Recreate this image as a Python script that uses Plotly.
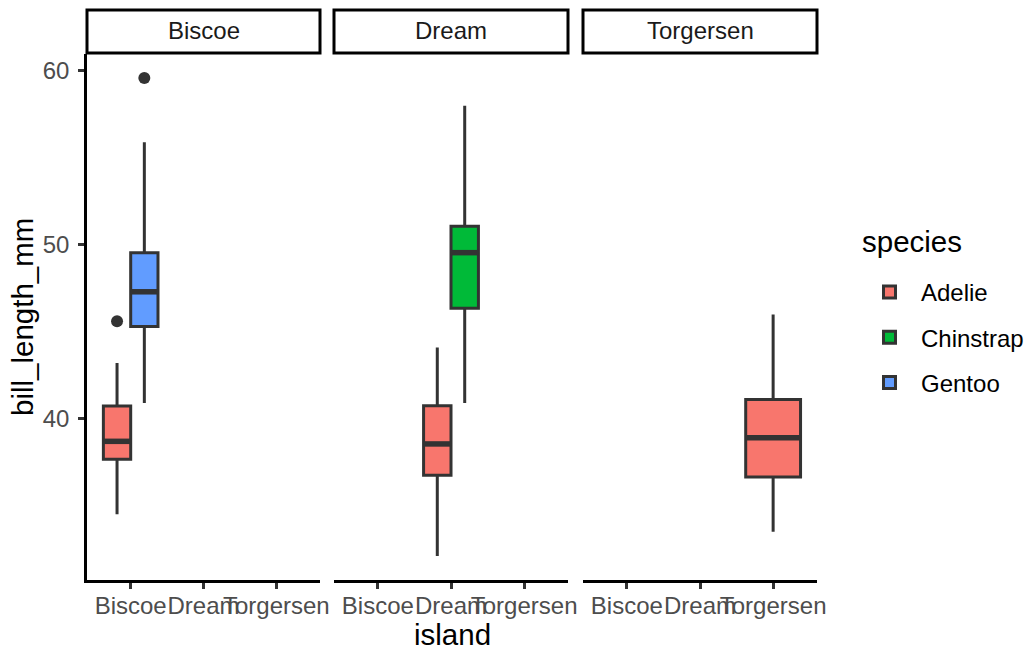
import plotly.graph_objects as go
from plotly.subplots import make_subplots

# ---- data ----
facets = ["Biscoe", "Dream", "Torgersen"]
x_categories = ["Biscoe", "Dream", "Torgersen"]
species = ["Adelie", "Chinstrap", "Gentoo"]
species_colors = ["#F8766D", "#00BA38", "#619CFF"]

box_island = ["Biscoe", "Biscoe", "Dream", "Dream", "Torgersen"]
box_species = ["Adelie", "Gentoo", "Adelie", "Chinstrap", "Adelie"]
box_q1 = [37.675, 45.3, 36.75, 46.35, 36.65]
box_median = [38.7, 47.3, 38.55, 49.55, 38.9]
box_q3 = [40.725, 49.55, 40.75, 51.075, 41.1]
box_lower = [34.5, 40.9, 32.1, 40.9, 33.5]
box_upper = [43.2, 55.9, 44.1, 58.0, 46.0]

outlier_island = ["Biscoe", "Biscoe"]
outlier_species = ["Adelie", "Gentoo"]
outlier_value = [45.6, 59.6]

y_ticks = [40, 50, 60]

# ---- styling ----
FONT = "Liberation Sans, Arial, Helvetica, sans-serif"
LINE = "#333333"
TICK_SIZE = 24
TITLE_SIZE = 29.5
DODGE = 0.75

fig = make_subplots(rows=1, cols=3, shared_yaxes=True, horizontal_spacing=0.0)

# dodge positions: within each facet, each island group shares 0.75 width
def dodge_positions(facet):
    out = {}
    for xi, xcat in enumerate(x_categories):
        present = [s for s in species
                   if any(bi == facet and bi == xcat and bs == s
                          for bi, bs in zip(box_island, box_species))]
        n = len(present)
        if n == 0:
            continue
        w = DODGE / n
        for k, s in enumerate(present):
            out[(xcat, s)] = (xi + 1 - DODGE / 2 + w * (k + 0.5), w)
    return out

shown = set()
for col, facet in enumerate(facets, start=1):
    pos = dodge_positions(facet)
    for i in range(len(box_island)):
        if box_island[i] != facet:
            continue
        sp = box_species[i]
        c, w = pos[(box_island[i], sp)]
        color = species_colors[species.index(sp)]
        fig.add_trace(go.Box(
            x=[c], q1=[box_q1[i]], median=[box_median[i]], q3=[box_q3[i]],
            lowerfence=[box_lower[i]], upperfence=[box_upper[i]],
            width=w, whiskerwidth=0, fillcolor=color,
            line=dict(color=LINE, width=3),
            name=sp, legendgroup=sp, showlegend=sp not in shown,
            boxpoints=False, hoverinfo="skip",
            legendrank=species.index(sp),
        ), row=1, col=col)
        shown.add(sp)
        # thicker median line (ggplot fatten)
        fig.add_trace(go.Scatter(
            x=[c - w / 2, c + w / 2], y=[box_median[i], box_median[i]],
            mode="lines", line=dict(color=LINE, width=5.5),
            showlegend=False, hoverinfo="skip",
        ), row=1, col=col)
    for j in range(len(outlier_island)):
        if outlier_island[j] != facet:
            continue
        c, w = pos[(outlier_island[j], outlier_species[j])]
        fig.add_trace(go.Scatter(
            x=[c], y=[outlier_value[j]], mode="markers",
            marker=dict(color=LINE, size=12, line=dict(width=0)),
            showlegend=False, hoverinfo="skip",
        ), row=1, col=col)

# panel geometry (pixels)
W, H = 1028, 648
L, R, T, B = 87, 817, 54, 580
pw = R - L
ph = B - T
panels = [(87, 320), (334, 568), (583, 817)]
domains = [[(a - L) / pw, (b - L) / pw] for a, b in panels]

for k in range(3):
    ax = "xaxis" if k == 0 else f"xaxis{k+1}"
    fig.layout[ax].update(
        domain=domains[k], range=[0.4, 3.6],
        tickmode="array", tickvals=[1, 2, 3], ticktext=x_categories,
        tickangle=0, showline=True, linecolor="black", linewidth=2.5,
        ticks="outside", ticklen=6, tickwidth=2.5, tickcolor=LINE,
        ticklabelstandoff=-4,
        tickfont=dict(family=FONT, size=TICK_SIZE, color="#4D4D4D"),
        showgrid=False, zeroline=False, fixedrange=True,
    )
    ay = "yaxis" if k == 0 else f"yaxis{k+1}"
    fig.layout[ay].update(range=[30.725, 60.975], showgrid=False, zeroline=False)

fig.layout.yaxis.update(
    tickmode="array", tickvals=y_ticks, ticks="outside", ticklen=6,
    tickwidth=2.5, tickcolor=LINE, showline=True, linecolor="black",
    linewidth=2.5, ticklabelstandoff=4,
    tickfont=dict(family=FONT, size=TICK_SIZE, color="#4D4D4D"),
)
for ay in ["yaxis2", "yaxis3"]:
    fig.layout[ay].update(showticklabels=False, ticks="", showline=False)

# facet strips
for k, facet in enumerate(facets):
    xr = "x domain" if k == 0 else f"x{k+1} domain"
    yr = "y domain" if k == 0 else f"y{k+1} domain"
    fig.add_shape(type="rect", xref=xr, yref=yr, x0=0, x1=1,
                  y0=1 + (T - 53) / ph, y1=1 + (T - 10) / ph,
                  line=dict(color="black", width=3), fillcolor="white",
                  layer="above")
    fig.add_annotation(xref=xr, yref=yr, x=0.5, y=1 + (T - 31) / ph,
                       text=facet, showarrow=False, yanchor="middle",
                       font=dict(family=FONT, size=TICK_SIZE, color="#1A1A1A"))

# axis titles
fig.add_annotation(xref="paper", yref="paper", x=(452 - L) / pw,
                   y=(B - 634) / ph, text="island", showarrow=False,
                   xanchor="center", yanchor="middle",
                   font=dict(family=FONT, size=TITLE_SIZE, color="black"))
fig.add_annotation(xref="paper", yref="paper", x=(22 - L) / pw,
                   y=0.5, text="bill_length_mm", showarrow=False, textangle=-90,
                   xanchor="center", yanchor="middle",
                   font=dict(family=FONT, size=TITLE_SIZE, color="black"))
# legend title
fig.add_annotation(xref="paper", yref="paper", x=(860 - L) / pw,
                   y=(B - 242) / ph, text="species", showarrow=False,
                   xanchor="left", yanchor="middle",
                   font=dict(family=FONT, size=TITLE_SIZE, color="black"))

fig.update_layout(
    width=W, height=H,
    margin=dict(l=L, r=W - R, t=T, b=H - B, pad=0, autoexpand=False),
    plot_bgcolor="white", paper_bgcolor="white",
    boxmode="overlay",
    legend=dict(
        font=dict(family=FONT, size=TICK_SIZE, color="black"),
        x=(858 - L) / pw, xanchor="left", y=(B - 270) / ph, yanchor="top",
        tracegroupgap=11, itemwidth=53, bgcolor="rgba(0,0,0,0)",
        traceorder="grouped",
    ),
    showlegend=True,
)

fig.write_html("out.html", config={"displayModeBar": False},
               post_script="document.body.style.margin='0';document.body.style.padding='0';")
